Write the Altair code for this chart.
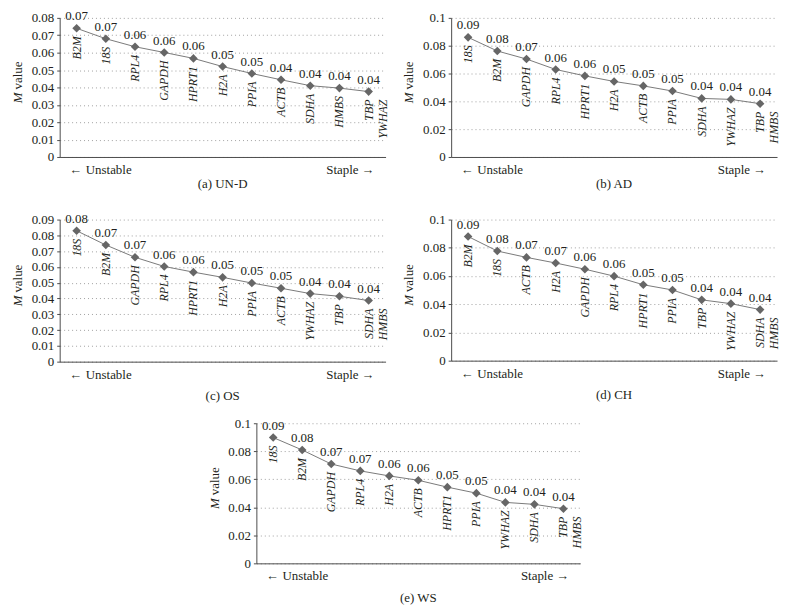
import altair as alt
import pandas as pd

SERIF = "Liberation Serif"
INK = "#231f20"
AXIS_GREY = "#4d4d4d"

# (a) UN-D
und_genes = ["B2M", "18S", "RPL4", "GAPDH", "HPRT1", "H2A", "PPIA", "ACTB", "SDHA", "HMBS", "TBP\nYWHAZ"]
und_m = [0.074, 0.068, 0.0634, 0.0601, 0.0567, 0.052, 0.048, 0.0444, 0.041, 0.0396, 0.0376]
und_ticks = [0, 0.01, 0.02, 0.03, 0.04, 0.05, 0.06, 0.07, 0.08]

# (b) AD
ad_genes = ["18S", "B2M", "GAPDH", "RPL4", "HPRT1", "H2A", "ACTB", "PPIA", "SDHA", "YWHAZ", "TBP\nHMBS"]
ad_m = [0.086, 0.0762, 0.0704, 0.0629, 0.0583, 0.0543, 0.0511, 0.0474, 0.0421, 0.0414, 0.0383]
ad_ticks = [0, 0.02, 0.04, 0.06, 0.08, 0.1]

# (c) OS
os_genes = ["18S", "B2M", "GAPDH", "RPL4", "HPRT1", "H2A", "PPIA", "ACTB", "YWHAZ", "TBP", "SDHA\nHMBS"]
os_m = [0.0829, 0.0739, 0.0661, 0.0603, 0.0567, 0.0534, 0.0498, 0.0465, 0.0431, 0.0414, 0.0387]
os_ticks = [0, 0.01, 0.02, 0.03, 0.04, 0.05, 0.06, 0.07, 0.08, 0.09]

# (d) CH
ch_genes = ["B2M", "18S", "ACTB", "H2A", "GAPDH", "RPL4", "HPRT1", "PPIA", "TBP", "YWHAZ", "SDHA\nHMBS"]
ch_m = [0.088, 0.0777, 0.0732, 0.0692, 0.0648, 0.0599, 0.0538, 0.0501, 0.0431, 0.0404, 0.0362]
ch_ticks = [0, 0.02, 0.04, 0.06, 0.08, 0.1]

# (e) WS
ws_genes = ["18S", "B2M", "GAPDH", "RPL4", "H2A", "ACTB", "HPRT1", "PPIA", "YWHAZ", "SDHA", "TBP\nHMBS"]
ws_m = [0.0898, 0.0809, 0.0709, 0.066, 0.0624, 0.0593, 0.0544, 0.0501, 0.0435, 0.0421, 0.039]
ws_ticks = [0, 0.02, 0.04, 0.06, 0.08, 0.1]


def note(text, x, y, **kw):
    style = dict(font=SERIF, fontSize=13, color=INK)
    style.update(kw)
    return (
        alt.Chart(pd.DataFrame({"t": [text]}))
        .mark_text(**style)
        .encode(text="t:N", x=alt.value(x), y=alt.value(y))
    )


def panel(genes, m_values, ticks, caption, width, height, caption_gap):
    df = pd.DataFrame({"gene": genes, "m": m_values})
    base = alt.Chart(df).encode(
        x=alt.X(
            "gene:N",
            sort=None,
            scale=alt.Scale(type="point", padding=0.58),
            axis=alt.Axis(labels=False, ticks=False, title=None, grid=False,
                          domainColor=AXIS_GREY),
        ),
        y=alt.Y(
            "m:Q",
            scale=alt.Scale(domain=[0, ticks[-1]], nice=False),
            axis=alt.Axis(values=ticks, format=".2~f", title=None, grid=True,
                          gridDash=[1, 3], gridColor="#a0a0a0", domainColor=AXIS_GREY,
                          tickColor=AXIS_GREY, tickSize=3, labelPadding=3,
                          labelFont=SERIF, labelFontSize=13, labelColor=INK),
        ),
    )
    line = base.mark_line(color="#7a7a7a", strokeWidth=1)
    pts = base.mark_point(shape="diamond", filled=True, size=75, color="#666666", opacity=1)
    vals = base.mark_text(font=SERIF, fontSize=13, color=INK, dy=-12).encode(
        text=alt.Text("m:Q", format=".2f")
    )
    names = base.mark_text(
        font=SERIF, fontSize=12, fontStyle="italic", color=INK, angle=270,
        align="right", baseline="middle", dx=-8, lineBreak="\n",
    ).encode(text="gene:N")

    c = height / 2 - 5
    layers = [
        line, pts, vals, names,
        note("M", -42, c + 10, angle=270, align="right", baseline="middle", fontStyle="italic"),
        note("value", -42, c + 7, angle=270, align="left", baseline="middle"),
        note("\u2190 Unstable", 10, height + 13, align="left", baseline="middle"),
        note("Staple \u2192", width - 11, height + 13, align="right", baseline="middle"),
        note(caption, width / 2, height + caption_gap, align="center", baseline="middle"),
    ]
    return alt.layer(*layers).properties(width=width, height=height)


a = panel(und_genes, und_m, und_ticks, "(a)  UN-D", 328, 140, 27)
b = panel(ad_genes, ad_m, ad_ticks, "(b)  AD", 328, 140, 27)
c = panel(os_genes, os_m, os_ticks, "(c)  OS", 328, 143, 35)
d = panel(ch_genes, ch_m, ch_ticks, "(d)  CH", 328, 142, 35)
e = panel(ws_genes, ws_m, ws_ticks, "(e)  WS", 326, 141, 35)

top = alt.vconcat(
    alt.hconcat(a, b, spacing=15),
    alt.hconcat(c, d, spacing=15),
    spacing=22,
)
chart = (
    alt.vconcat(top, e, spacing=14, center=True)
    .properties(padding={"left": 4, "top": 0, "right": 0, "bottom": 0}, background="white")
    .configure_view(stroke=None)
)

chart.save("out.html", embed_options={"renderer": "svg", "actions": False})
